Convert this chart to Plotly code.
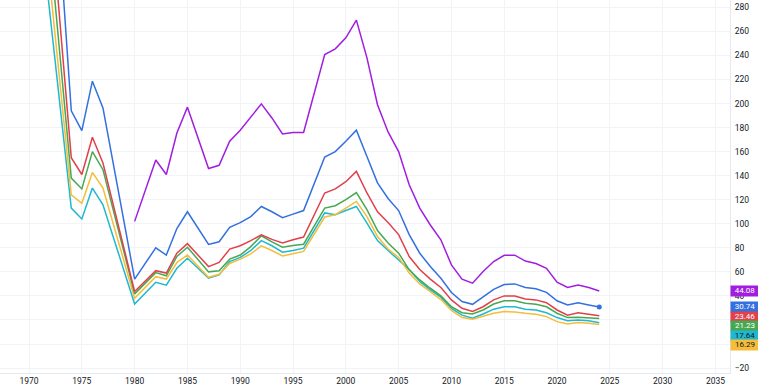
import plotly.graph_objects as go

years = [1970, 1974, 1975, 1976, 1977, 1980, 1982, 1983, 1984, 1985,
         1987, 1988, 1989, 1990, 1991, 1992, 1993, 1994, 1995, 1996,
         1998, 1999, 2000, 2001, 2002, 2003, 2004, 2005, 2006, 2007,
         2008, 2009, 2010, 2011, 2012, 2013, 2014, 2015, 2016, 2017,
         2018, 2019, 2020, 2021, 2022, 2023, 2024]

blue = [706, 194, 177.5, 218.6, 196.4, 54, 80, 74, 96, 110,
        82.8, 85, 97, 101, 106, 114.4, 110, 105, 108, 111,
        155.5, 160, 168.6, 177.8, 156, 134, 121, 111, 91, 75.5,
        64.5, 54.7, 42.8, 35.3, 33, 39.4, 45.5, 49.5, 50, 47,
        46, 43, 36, 32.5, 34.4, 32.5, 30.74]
red = [575, 155, 141, 172, 150.5, 43.6, 61, 59, 75.6, 83.5,
       64.4, 67.8, 79, 81.7, 86, 90.8, 87, 84, 86.7, 89,
       125.6, 129, 135, 143.6, 125.6, 110, 101, 91, 72.8, 62,
       54, 47, 36.7, 29.7, 27, 31, 36.7, 40, 40, 37.5,
       36.7, 34.4, 28.3, 24, 26, 25, 23.46]
green = [519, 138, 129, 160, 145, 41.7, 59.4, 56.7, 72.8, 80.5,
         60, 61, 70.6, 74, 81, 90, 85, 80.5, 82, 83,
         113, 115, 120, 126, 111.7, 94.4, 84, 75.6, 61.7, 53.3,
         46.4, 40, 31, 26, 25, 28.3, 33.3, 36, 36, 34,
         33, 31, 25.6, 22, 22.2, 21.8, 21.23]
yellow = [471, 124, 117, 142.7, 129.7, 38, 56, 54, 67.8, 74,
          55.5, 58, 67, 70.6, 75, 81.7, 77.8, 73.3, 75, 77,
          105.6, 107.5, 113, 118.6, 106, 89.4, 79, 72, 59, 50,
          43.6, 37, 28, 22, 20.6, 22.8, 25.6, 27, 26.7, 25.6,
          24.7, 22.8, 18.6, 16.7, 17.8, 17.2, 16.29]
cyan = [433, 113, 104, 129.7, 115.8, 33.3, 51.4, 49, 63, 71.4,
        54.7, 57.5, 68.6, 72, 77.8, 86, 81.7, 76.4, 77.8, 79.7,
        109, 107.5, 111, 114.4, 100.6, 86, 77.8, 70, 62, 52,
        45, 39, 29.7, 24, 21.4, 25, 29, 31, 31, 29,
        28.3, 26, 22, 19.4, 20, 19.4, 17.64]

purple_years = years[5:]
purple = [102, 153, 141, 175.5, 197, 146, 148.6, 168.6, 177.8, 189,
          199.7, 188, 174.7, 176, 176, 240.8, 245.5, 254.7, 269.4, 238,
          199, 176.4, 160, 132.5, 113, 99, 86.7, 65.8, 54, 50.6,
          60.3, 68.6, 73.8, 73.9, 69, 67, 63, 51.4, 47, 49, 47, 44.08]

x_ticks = list(range(1970, 2036, 5))
y_ticks = list(range(-20, 281, 20))
# 0 and 20 are hidden under the value labels in the reference
y_ticktext = ["" if v in (0, 20) else str(v).replace("-", "\u2212") for v in y_ticks]

C_PURPLE = "#a11ee0"
C_BLUE = "#3370e0"
C_RED = "#e0414b"
C_GREEN = "#47a851"
C_CYAN = "#1fb8d0"
C_YELLOW = "#f4bd3a"

series = [
    (cyan, C_CYAN, years, "#131722"),
    (yellow, C_YELLOW, years, "#131722"),
    (green, C_GREEN, years, "white"),
    (red, C_RED, years, "white"),
    (blue, C_BLUE, years, "white"),
    (purple, C_PURPLE, purple_years, "white"),
]

fig = go.Figure()
for vals, col, xs, _ in series:
    fig.add_trace(go.Scatter(x=xs, y=vals, mode="lines",
                             line=dict(color=col, width=1.5),
                             hoverinfo="skip", showlegend=False))
fig.add_trace(go.Scatter(x=[years[-1]], y=[blue[-1]], mode="markers",
                         marker=dict(color=C_BLUE, size=5),
                         hoverinfo="skip", showlegend=False))

W, H = 758, 390
ML, MR, MT, MB = 0, 28, 0, 17
Y0, Y1 = -24.1, 286.1
X0, X1 = 1967.25, 2036.38
px_per_unit = (H - MT - MB) / (Y1 - Y0)
LABEL_H = 9.5
gap = LABEL_H / px_per_unit

# stacked end labels
items = sorted([(vals[-1], col, tc) for vals, col, xs, tc in series], key=lambda t: -t[0])
annotations = []
prev = None
for v, col, tc in items:
    pos = v if prev is None else min(v, prev - gap)
    prev = pos
    annotations.append(dict(
        x=1, xref="paper", xanchor="left", y=pos, yref="y", yanchor="middle",
        text=f"{v:.2f}", showarrow=False, bgcolor=col,
        font=dict(size=8, color=tc, family="Roboto, sans-serif"),
        width=28, height=LABEL_H, borderpad=0, align="center"))

fig.update_layout(
    width=W, height=H,
    margin=dict(l=ML, r=MR, t=MT, b=MB),
    paper_bgcolor="white", plot_bgcolor="white",
    font=dict(family="Roboto, sans-serif", size=8.5, color="#131722"),
    annotations=annotations,
    xaxis=dict(range=[X0, X1], tickvals=x_ticks, showgrid=True,
               gridcolor="#f2f3f6", gridwidth=1, zeroline=False,
               showline=True, linecolor="#e6e8ee", ticks="",
               tickfont=dict(size=8.5, color="#131722")),
    yaxis=dict(range=[Y0, Y1], side="right", tickvals=y_ticks, ticktext=y_ticktext,
               showgrid=True, gridcolor="#f2f3f6", gridwidth=1,
               zeroline=False, showline=True, linecolor="#e6e8ee",
               ticks="", ticklabelstandoff=2,
               tickfont=dict(size=8.5, color="#131722")),
)

fig.write_html("out.html", config={"displayModeBar": False},
               post_script="document.body.style.margin='0';document.body.style.overflow='hidden';")
